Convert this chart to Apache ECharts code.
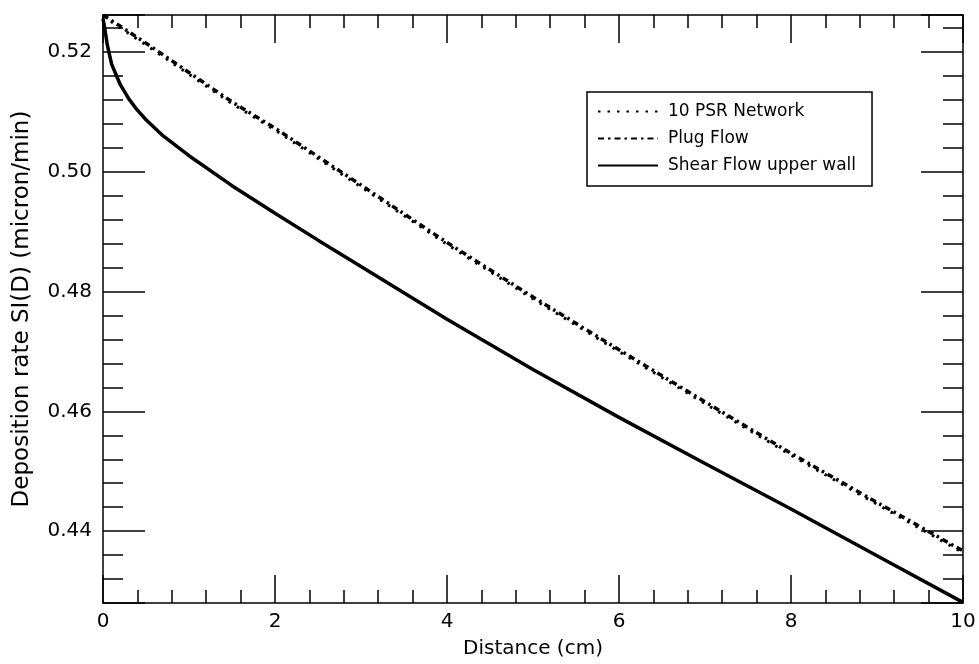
<!DOCTYPE html>
<html><head><meta charset="utf-8">
<script src="https://cdn.jsdelivr.net/npm/echarts@6/dist/echarts.min.js"></script>
<style>html,body{margin:0;padding:0;background:#fff}#c{width:979px;height:664px}</style>
</head><body><div id="c"></div><script>
// Data
const seriesNames = ['10 PSR Network', 'Plug Flow', 'Shear Flow upper wall'];
const shearX = [0, 0.02, 0.05, 0.1, 0.2, 0.3, 0.4, 0.5, 0.7, 1.0, 1.5, 2, 2.5, 3, 4, 5, 6, 7, 8, 9, 10];
const shearY = [0.5256, 0.5240, 0.5212, 0.5180, 0.5146, 0.5122, 0.5103, 0.5087, 0.5060, 0.5027, 0.4977, 0.4931, 0.4886, 0.4842, 0.4754, 0.4670, 0.4590, 0.4513, 0.4437, 0.4359, 0.4281];
const plugX = [0, 0.5, 1, 1.5, 2, 3, 4, 5, 6, 7, 8, 9, 10];
const plugY = [0.5262, 0.5215, 0.5166, 0.5117, 0.5073, 0.4978, 0.4882, 0.4791, 0.4703, 0.4616, 0.4530, 0.4448, 0.4367];
const psrX = [0, 0.5, 1, 1.5, 2, 3, 4, 5, 6, 7, 8, 9, 10];
const psrY = [0.5260, 0.5212, 0.5163, 0.5114, 0.5070, 0.4975, 0.4879, 0.4788, 0.4700, 0.4613, 0.4527, 0.4445, 0.4364];
const xTickLabels = ['0', '2', '4', '6', '8', '10'];
const yTickLabels = ['0.44', '0.46', '0.48', '0.50', '0.52'];

const FONT = 'DejaVu Sans';
const pairs = (xs, ys) => xs.map((x, i) => [x, ys[i]]);

const xBase = (pos, show) => ({
  type: 'value', position: pos, min: 0, max: 10, interval: 2,
  axisLine: { show: true, onZero: false, lineStyle: { color: '#000', width: 1.5 } },
  axisTick: { show: true, inside: true, length: 28, lineStyle: { color: '#000', width: 1.5 } },
  minorTick: { show: true, splitNumber: 5, length: 13, lineStyle: { color: '#000', width: 1.5 } },
  splitLine: { show: false }, minorSplitLine: { show: false },
  axisLabel: {
    show: show, color: '#000', fontFamily: FONT, fontSize: 20, margin: 9,
    formatter: v => { const i = xTickLabels.indexOf(String(v)); return i >= 0 ? xTickLabels[i] : ''; }
  }
});
const yBase = (pos, show) => ({
  type: 'value', position: pos, min: 0.428, max: 0.5262,
  splitNumber: 5, minInterval: 0.02, maxInterval: 0.02,
  axisLine: { show: true, onZero: false, lineStyle: { color: '#000', width: 1.5 } },
  axisTick: { show: true, inside: true, length: 42, lineStyle: { color: '#000', width: 1.5 } },
  minorTick: { show: true, splitNumber: 5, length: 20, lineStyle: { color: '#000', width: 1.5 } },
  splitLine: { show: false }, minorSplitLine: { show: false },
  axisLabel: {
    show: show, color: '#000', fontFamily: FONT, fontSize: 20, margin: 11,
    showMinLabel: false, showMaxLabel: false,
    formatter: v => { const s = v.toFixed(2); return yTickLabels.indexOf(s) >= 0 ? s : ''; }
  }
});

const xMain = Object.assign(xBase('bottom', true), {
  name: 'Distance (cm)', nameLocation: 'middle', nameGap: 36,
  nameTextStyle: { color: '#000', fontFamily: FONT, fontSize: 20 }
});
const yMain = Object.assign(yBase('left', true), {
  name: 'Deposition rate SI(D) (micron/min)', nameLocation: 'middle', nameGap: 69,
  nameTextStyle: { color: '#000', fontFamily: FONT, fontSize: 23 }
});

const chart = echarts.init(document.getElementById('c'), null, { renderer: 'canvas' });
chart.setOption({
  backgroundColor: '#fff',
  animation: false,
  grid: { left: 103, right: 16, top: 15, bottom: 60, containLabel: false },
  xAxis: [xMain, xBase('top', false)],
  yAxis: [yMain, yBase('right', false)],
  legend: {
    orient: 'vertical', left: 587, top: 92,
    padding: [11, 16, 12, 10],
    borderColor: '#000', borderWidth: 1.5, backgroundColor: '#fff',
    itemWidth: 60, itemHeight: 18, itemGap: 10,
    itemStyle: { opacity: 0 },
    textStyle: { color: '#000', fontFamily: FONT, fontSize: 17, padding: [0, 0, 0, 5] },
    data: seriesNames
  },
  series: [
    {
      name: seriesNames[0], type: 'line', showSymbol: false, symbol: 'none',
      data: pairs(psrX, psrY), smooth: false,
      itemStyle: { color: '#000' },
      lineStyle: { color: '#000', width: 3, type: [2.5, 7] }, z: 3
    },
    {
      name: seriesNames[1], type: 'line', showSymbol: false, symbol: 'none',
      data: pairs(plugX, plugY), smooth: false,
      itemStyle: { color: '#000' },
      lineStyle: { color: '#000', width: 3.5, type: [6, 4, 2.5, 4] }, z: 2
    },
    {
      name: seriesNames[2], type: 'line', showSymbol: false, symbol: 'none',
      data: pairs(shearX, shearY), smooth: false,
      itemStyle: { color: '#000' },
      lineStyle: { color: '#000', width: 3.5 }, z: 4
    }
  ]
});
</script></body></html>
